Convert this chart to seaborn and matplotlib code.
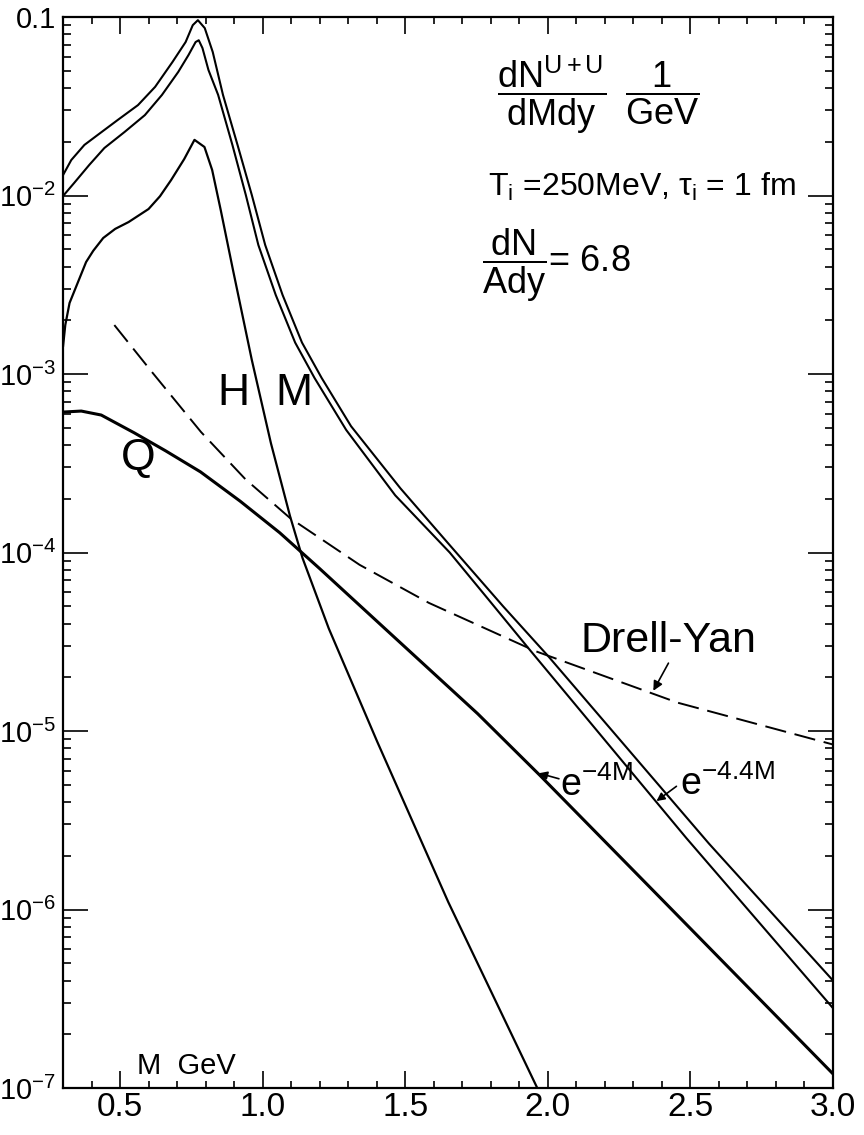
import math
import matplotlib
matplotlib.use("Agg")
from matplotlib import pyplot as plt
from matplotlib.ticker import FixedLocator, FuncFormatter, LogLocator, MultipleLocator, NullFormatter
import seaborn as sns
import pandas as pd

# invariant mass M (GeV) and dN/dMdy (1/GeV)
m_upper = [0.30, 0.329, 0.375, 0.421, 0.492, 0.563, 0.623, 0.684, 0.730, 0.755, 0.773, 0.797,
           0.825, 0.861, 0.912, 0.962, 1.009, 1.070, 1.138, 1.207, 1.31, 1.483, 1.656, 1.843,
           2.001, 2.565, 3.0]
n_upper = [1.30e-2, 1.58e-2, 1.92e-2, 2.18e-2, 2.65e-2, 3.21e-2, 4.06e-2, 5.6e-2, 7.24e-2,
           9.0e-2, 9.6e-2, 8.67e-2, 6.37e-2, 3.66e-2, 1.92e-2, 1.007e-2, 5.28e-3, 2.77e-3,
           1.5e-3, 9.5e-4, 5.1e-4, 2.29e-4, 1.1e-4, 5.0e-5, 2.63e-5, 2.34e-6, 4.0e-7]

m_lower = [0.30, 0.339, 0.392, 0.445, 0.516, 0.587, 0.647, 0.704, 0.740, 0.765, 0.776, 0.789,
           0.810, 0.844, 0.894, 0.941, 0.985, 1.046, 1.114, 1.182, 1.293, 1.465, 1.656, 1.79,
           1.939, 2.486, 3.0]
n_lower = [9.93e-3, 1.175e-2, 1.483e-2, 1.845e-2, 2.27e-2, 2.82e-2, 3.66e-2, 4.92e-2, 6.12e-2,
           7.24e-2, 7.41e-2, 6.7e-2, 5.05e-2, 3.66e-2, 1.92e-2, 1.007e-2, 5.28e-3, 2.77e-3,
           1.5e-3, 9.5e-4, 4.86e-4, 2.09e-4, 1.0e-4, 5.5e-5, 2.82e-5, 2.51e-6, 2.8e-7]

m_hadron = [0.30, 0.308, 0.323, 0.381, 0.406, 0.441, 0.483, 0.53, 0.60, 0.64, 0.679, 0.725,
            0.761, 0.796, 0.823, 0.853, 0.896, 0.962, 1.029, 1.096, 1.14, 1.232, 1.402, 1.651,
            1.963]
n_hadron = [1.42e-3, 1.88e-3, 2.5e-3, 4.24e-3, 4.9e-3, 5.78e-3, 6.5e-3, 7.1e-3, 8.4e-3,
            9.9e-3, 1.22e-2, 1.6e-2, 2.05e-2, 1.87e-2, 1.39e-2, 8.3e-3, 3.83e-3, 1.2e-3,
            4.1e-4, 1.6e-4, 9.3e-5, 3.75e-5, 8.7e-6, 1.1e-6, 1.0e-7]

m_quark = [0.30, 0.364, 0.434, 0.55, 0.66, 0.782, 0.921, 1.06, 1.199, 1.431, 1.754, 1.972,
           2.402, 3.0]
n_quark = [6.12e-4, 6.2e-4, 5.89e-4, 4.68e-4, 3.71e-4, 2.83e-4, 1.94e-4, 1.29e-4, 8.15e-5,
           3.72e-5, 1.25e-5, 5.65e-6, 1.13e-6, 1.2e-7]

m_dy = [0.48, 0.611, 0.715, 0.784, 0.94, 1.096, 1.34, 1.583, 1.957, 2.456, 3.0]
n_dy = [1.88e-3, 1.03e-3, 6.45e-4, 4.73e-4, 2.57e-4, 1.56e-4, 8.53e-5, 5.22e-5, 2.8e-5,
        1.44e-5, 8.4e-6]

x_ticks = [0.5, 1.0, 1.5, 2.0, 2.5, 3.0]
x_tick_labels = ["0.5", "1.0", "1.5", "2.0", "2.5", "3.0"]

sns.set_style("ticks", {"axes.edgecolor": "black", "text.color": "black",
                        "xtick.color": "black", "ytick.color": "black"})
plt.rcParams['font.family'] = ['Liberation Sans', 'DejaVu Sans']
plt.rcParams['mathtext.fontset'] = 'custom'
plt.rcParams['mathtext.rm'] = 'Liberation Sans'
plt.rcParams['mathtext.it'] = 'Liberation Sans:italic'
plt.rcParams['mathtext.bf'] = 'Liberation Sans:bold'
plt.rcParams['text.color'] = 'black'

fig = plt.figure(figsize=(8.64, 11.35), dpi=100)
ax = fig.add_axes([63 / 864, 1 - 1088 / 1135, 770 / 864, 1071 / 1135])


def draw(m, n, lw, **kw):
    df = pd.DataFrame({"M": m, "N": n})
    sns.lineplot(data=df, x="M", y="N", color="black", lw=lw, ax=ax, **kw)


draw(m_upper, n_upper, 1.5)
draw(m_lower, n_lower, 1.5)
draw(m_hadron, n_hadron, 1.6)
draw(m_quark, n_quark, 2.2)
draw(m_dy, n_dy, 1.4, dashes=(11, 4.5))

ax.set_yscale("log")
ax.set_xlim(0.3, 3.0)
ax.set_ylim(1e-7, 0.1)
ax.set_xlabel("")
ax.set_ylabel("")

for s in ax.spines.values():
    s.set_linewidth(1.6)
    s.set_visible(True)
    s.set_color("black")

ax.xaxis.set_major_locator(FixedLocator(x_ticks))
ax.set_xticklabels(x_tick_labels)
ax.xaxis.set_minor_locator(MultipleLocator(0.1))
ax.yaxis.set_major_locator(LogLocator(base=10, numticks=10))
ax.yaxis.set_minor_locator(LogLocator(base=10, subs=(2, 3, 4, 5, 6, 7, 8, 9), numticks=20))
ax.yaxis.set_minor_formatter(NullFormatter())


def ylab(v, pos):
    if v > 0.05:
        return "0.1"
    return r"10$^{%d}$" % int(round(math.log10(v)))


ax.yaxis.set_major_formatter(FuncFormatter(ylab))
ax.tick_params(which="both", direction="in", top=True, right=True, width=1.2, colors="black")
ax.tick_params(axis="y", which="major", length=18, labelsize=21, pad=5)
ax.tick_params(axis="y", which="minor", length=6)
ax.tick_params(axis="x", which="major", length=12, labelsize=24, pad=3)
ax.tick_params(axis="x", which="minor", length=5)

# curve labels
ax.text(0.898, 7.8e-4, "H", ha="center", va="center", fontsize=32)
ax.text(1.109, 7.8e-4, "M", ha="center", va="center", fontsize=32)
ax.text(0.562, 3.38e-4, "Q", ha="center", va="center", fontsize=32)
ax.text(2.423, 3.2e-5, "Drell-Yan", ha="center", va="center", fontsize=31)
ax.annotate("", xy=(2.37, 1.68e-5), xytext=(2.423, 2.4e-5),
            arrowprops=dict(arrowstyle="-|>", lw=1.2, color="black", mutation_scale=14,
                            shrinkA=0, shrinkB=0))
ax.text(2.042, 4.3e-6, r"e$^{-4\mathrm{M}}$", ha="left", va="baseline", fontsize=27)
ax.annotate("", xy=(1.969, 5.8e-6), xytext=(2.039, 5.4e-6),
            arrowprops=dict(arrowstyle="-|>", lw=1.2, color="black", mutation_scale=12,
                            shrinkA=0, shrinkB=0))
ax.text(2.463, 4.4e-6, r"e$^{-4.4\mathrm{M}}$", ha="left", va="baseline", fontsize=27)
ax.annotate("", xy=(2.381, 4.05e-6), xytext=(2.451, 4.9e-6),
            arrowprops=dict(arrowstyle="-|>", lw=1.2, color="black", mutation_scale=12,
                            shrinkA=0, shrinkB=0))
ax.text(0.56, 1.2e-7, "M  GeV", ha="left", va="baseline", fontsize=21)

# formula block, top right
fig.text(598 / 864, 1 - 95 / 1135,
         r"$\dfrac{\mathrm{dN}^{\mathrm{U+U}}}{\mathrm{dMdy}}\;\;\dfrac{1}{\mathrm{GeV}}$",
         ha="center", va="center", fontsize=26)
fig.text(488 / 864, 1 - 187 / 1135, r"T$_\mathrm{i}$ =250MeV, τ$_\mathrm{i}$ = 1 fm",
         ha="left", va="center", fontsize=23)
fig.text(482 / 864, 1 - 265 / 1135, r"$\dfrac{\mathrm{dN}}{\mathrm{Ady}}$= 6.8",
         ha="left", va="center", fontsize=26)

fig.savefig("out.png", dpi=100, facecolor="white")
